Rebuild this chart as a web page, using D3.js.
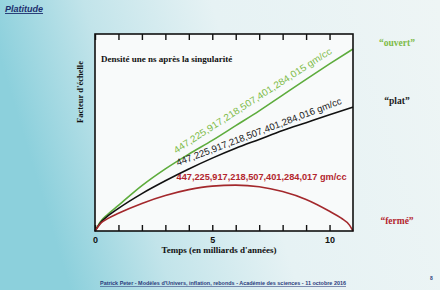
<!DOCTYPE html>
<html>
<head>
<meta charset="utf-8">
<script src="https://cdn.jsdelivr.net/npm/d3@7"></script>
<style>
  body { margin: 0; padding: 0; overflow: hidden; }
  svg { display: block; }
</style>
</head>
<body>
<div id="viz"></div>
<script>
// data (time in Gyr, scale factor in arbitrary units)
var times     = [0, 0.25, 0.5, 1, 2, 3, 4, 5, 6, 7, 8, 9, 10, 11];
var ouvert    = [0, 0.05, 0.08, 0.13, 0.23, 0.315, 0.39, 0.46, 0.535, 0.61, 0.69, 0.77, 0.848, 0.924];
var plat      = [0, 0.045, 0.072, 0.115, 0.19, 0.255, 0.315, 0.37, 0.42, 0.465, 0.51, 0.55, 0.59, 0.629];
var fermeT    = [0, 0.25, 0.5, 1, 2, 3, 4, 5, 6, 7, 8, 9, 10, 10.5, 10.85, 11];
var ferme     = [0, 0.04, 0.06, 0.09, 0.14, 0.18, 0.21, 0.228, 0.233, 0.225, 0.2, 0.16, 0.1, 0.065, 0.03, 0];
var densities = ["447,225,917,218,507,401,284,015 gm/cc",
                 "447,225,917,218,507,401,284,016 gm/cc",
                 "447,225,917,218,507,401,284,017 gm/cc"];
var modelNames = ["\u201couvert\u201d", "\u201cplat\u201d", "\u201cfermé\u201d"];
var xTicks = [0, 1, 2, 3, 4, 5, 6, 7, 8, 9, 10];
var xLabels = [0, 5, 10];

var W = 440, H = 290;
var margin = {top: 34, right: 87, bottom: 59, left: 95},
    width = W - margin.left - margin.right,
    height = H - margin.top - margin.bottom;

var colors = ["#5dac3c", "#111111", "#a3282c"];
var textColors = ["#7dbb48", "#1a1a1a", "#b3262e"];

var svg = d3.select("#viz")
  .append("svg")
    .attr("width", W)
    .attr("height", H);

// slide background
var defs = svg.append("defs");
var grad = defs.append("linearGradient")
    .attr("id", "bg")
    .attr("x1", 0).attr("y1", 0.2).attr("x2", 1).attr("y2", 0);
grad.append("stop").attr("offset", "0%").attr("stop-color", "#8cd0dc");
grad.append("stop").attr("offset", "22%").attr("stop-color", "#c2e4ea");
grad.append("stop").attr("offset", "50%").attr("stop-color", "#e6f2f4");
grad.append("stop").attr("offset", "100%").attr("stop-color", "#eef5f5");

svg.append("rect")
    .attr("width", W).attr("height", H)
    .attr("fill", "url(#bg)");

// slide title
svg.append("text")
    .attr("x", 5).attr("y", 12)
    .attr("font-family", "Liberation Sans, Arial, sans-serif")
    .attr("font-size", 9)
    .attr("font-weight", "bold")
    .attr("font-style", "italic")
    .attr("text-decoration", "underline")
    .attr("fill", "#1d2f6e")
    .text("Platitude");

var g = svg.append("g")
    .attr("transform", "translate(" + margin.left + "," + margin.top + ")");

var x = d3.scaleLinear().domain([0, 11]).range([0, width]);
var y = d3.scaleLinear().domain([0, 1]).range([height, 0]);

// plot panel
g.append("rect")
    .attr("width", width).attr("height", height)
    .attr("fill", "#f8fafa");

// ticks pointing inward
g.append("g")
    .attr("transform", "translate(0," + height + ")")
    .call(d3.axisBottom(x).tickValues(xTicks).tickSize(-6).tickPadding(6)
          .tickFormat(function(d) { return xLabels.indexOf(d) >= 0 ? d : ""; }))
    .call(function(a) {
        a.select(".domain").remove();
        a.selectAll("line").attr("stroke", "#111").attr("stroke-width", 1.4);
        a.selectAll("text")
          .attr("font-family", "Liberation Sans, Arial, sans-serif")
          .attr("font-weight", "bold")
          .attr("font-size", 9)
          .attr("fill", "#111");
    });

g.append("g")
    .call(d3.axisTop(x).tickValues(xTicks).tickSize(-6).tickFormat(""))
    .call(function(a) {
        a.select(".domain").remove();
        a.selectAll("line").attr("stroke", "#111").attr("stroke-width", 1.4);
    });

// series
var line = d3.line()
    .x(function(d) { return x(d[0]); })
    .y(function(d) { return y(d[1]); })
    .curve(d3.curveMonotoneX);

var series = [
    d3.zip(times, ouvert),
    d3.zip(times, plat),
    d3.zip(fermeT, ferme)
];

series.forEach(function(s, i) {
    g.append("path")
        .datum(s)
        .attr("d", line)
        .attr("fill", "none")
        .attr("stroke", colors[i])
        .attr("stroke-width", 1.6);
});

// frame
g.append("rect")
    .attr("width", width).attr("height", height)
    .attr("fill", "none")
    .attr("stroke", "#111")
    .attr("stroke-width", 1.6);

// density labels along the curves
function valueAt(xs, ys, t) {
    for (var k = 1; k < xs.length; k++) {
        if (t <= xs[k]) {
            var f = (t - xs[k-1]) / (xs[k] - xs[k-1]);
            return ys[k-1] + f * (ys[k] - ys[k-1]);
        }
    }
    return ys[ys.length - 1];
}

var labelT = [7.0, 7.1, 7.1];
var labelOff = [9, 4, 0];
var labelLen = [186, 176, 170];
[ouvert, plat].forEach(function(ys, i) {
    var t = labelT[i];
    var px = x(t), py = y(valueAt(times, ys, t));
    var ang = Math.atan2(y(valueAt(times, ys, t + 2.5)) - y(valueAt(times, ys, t - 2.5)),
                         x(t + 2.5) - x(t - 2.5)) * 180 / Math.PI;
    g.append("text")
        .attr("transform", "translate(" + px + "," + py + ") rotate(" + ang + ") translate(0," + (-labelOff[i]) + ")")
        .attr("text-anchor", "middle")
        .attr("font-family", "Liberation Sans, Arial, sans-serif")
        .attr("font-size", 9.5)
        .attr("textLength", labelLen[i])
        .attr("lengthAdjust", "spacingAndGlyphs")
        .attr("fill", textColors[i])
        .text(densities[i]);
});

g.append("text")
    .attr("x", x(7.1))
    .attr("y", y(0.26))
    .attr("text-anchor", "middle")
    .attr("font-family", "Liberation Sans, Arial, sans-serif")
    .attr("font-size", 9)
    .attr("font-weight", "bold")
    .attr("textLength", labelLen[2])
    .attr("lengthAdjust", "spacingAndGlyphs")
    .attr("fill", textColors[2])
    .text(densities[2]);

// caption inside the panel
g.append("text")
    .attr("x", 6).attr("y", 28)
    .attr("font-family", "Liberation Serif, Times New Roman, serif")
    .attr("font-weight", "bold")
    .attr("font-size", 9)
    .attr("fill", "#111")
    .text("Densité une ns après la singularité");

// axis titles
g.append("text")
    .attr("x", 124).attr("y", height + 22)
    .attr("text-anchor", "middle")
    .attr("font-family", "Liberation Serif, Times New Roman, serif")
    .attr("font-weight", "bold")
    .attr("font-size", 9)
    .attr("fill", "#111")
    .text("Temps (en milliards d'années)");

g.append("text")
    .attr("transform", "translate(-12,58) rotate(-90)")
    .attr("text-anchor", "middle")
    .attr("font-family", "Liberation Serif, Times New Roman, serif")
    .attr("font-weight", "bold")
    .attr("font-size", 8.5)
    .attr("fill", "#111")
    .text("Facteur d'échelle");

// model names on the right
var nameY = [46, 104, 224];
modelNames.forEach(function(n, i) {
    svg.append("text")
        .attr("x", 397).attr("y", nameY[i])
        .attr("text-anchor", "middle")
        .attr("font-family", "Liberation Serif, Times New Roman, serif")
        .attr("font-weight", "bold")
        .attr("font-size", 9.5)
        .attr("fill", textColors[i])
        .text(n);
});

// footer
svg.append("text")
    .attr("x", 100).attr("y", 285)
    .attr("font-family", "Liberation Sans, Arial, sans-serif")
    .attr("font-size", 5.6)
    .attr("font-weight", "bold")
    .attr("text-decoration", "underline")
    .attr("textLength", 246)
    .attr("lengthAdjust", "spacingAndGlyphs")
    .attr("fill", "#2b3c7c")
    .text("Patrick Peter - Modèles d'Univers, inflation, rebonds - Académie des sciences - 11 octobre 2016");

svg.append("text")
    .attr("x", 430).attr("y", 280)
    .attr("font-family", "Liberation Sans, Arial, sans-serif")
    .attr("font-size", 5)
    .attr("font-weight", "bold")
    .attr("fill", "#2b3c7c")
    .text("8");
</script>
</body>
</html>
